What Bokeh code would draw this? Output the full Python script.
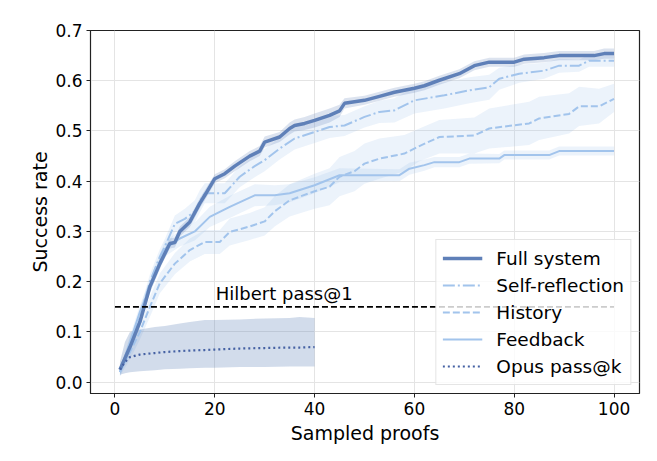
from bokeh.plotting import figure
from bokeh.models import Legend, LegendItem, Range1d, FixedTicker, Label, CustomJSTickFormatter
from bokeh.embed import file_html
from bokeh.resources import INLINE

# ---------------- data ----------------
full_x = [1, 3, 5, 7, 9, 11, 12, 13, 15, 17, 18, 20, 22, 24, 27, 29, 30, 33, 35, 36, 38, 40, 43, 45, 46, 50,
          53, 56, 60, 62, 65, 69, 72, 75, 80, 82, 86, 89, 96, 98, 100]
full_y = [0.025, 0.07, 0.12, 0.19, 0.236, 0.276, 0.278, 0.30, 0.319, 0.356, 0.372, 0.405, 0.415, 0.43, 0.45,
          0.46, 0.478, 0.488, 0.505, 0.511, 0.515, 0.521, 0.531, 0.54, 0.555, 0.561, 0.569, 0.577, 0.585,
          0.59, 0.601, 0.614, 0.63, 0.637, 0.637, 0.643, 0.646, 0.65, 0.65, 0.654, 0.654]
full_lo = [0.018, 0.06, 0.11, 0.18, 0.226, 0.266, 0.268, 0.29, 0.309, 0.346, 0.362, 0.396, 0.406, 0.42, 0.44,
           0.45, 0.467, 0.478, 0.493, 0.499, 0.502, 0.507, 0.517, 0.528, 0.545, 0.552, 0.56, 0.568, 0.576,
           0.581, 0.592, 0.605, 0.621, 0.628, 0.628, 0.634, 0.637, 0.641, 0.641, 0.644, 0.644]
full_hi = [0.032, 0.08, 0.13, 0.20, 0.246, 0.286, 0.288, 0.31, 0.329, 0.366, 0.382, 0.414, 0.424, 0.44, 0.46,
           0.47, 0.489, 0.498, 0.517, 0.523, 0.528, 0.535, 0.545, 0.552, 0.565, 0.570, 0.578, 0.586, 0.594,
           0.599, 0.610, 0.623, 0.639, 0.646, 0.646, 0.652, 0.655, 0.659, 0.659, 0.664, 0.664]

self_x = [1, 3, 5, 7, 9, 10, 12, 14, 16, 17, 18, 22, 25, 28, 30, 33, 36, 40, 43, 46, 50, 53, 56, 60, 66, 71,
          75, 77, 81, 86, 89, 93, 95, 100]
self_y = [0.02, 0.07, 0.13, 0.2, 0.25, 0.27, 0.315, 0.325, 0.34, 0.36, 0.376, 0.376, 0.409, 0.43, 0.442,
          0.465, 0.485, 0.498, 0.508, 0.511, 0.528, 0.538, 0.541, 0.561, 0.571, 0.581, 0.587, 0.604, 0.614,
          0.62, 0.63, 0.63, 0.64, 0.64]
self_lo = [0.012, 0.058, 0.115, 0.185, 0.235, 0.255, 0.298, 0.305, 0.318, 0.338, 0.356, 0.356, 0.388, 0.408,
           0.42, 0.443, 0.463, 0.476, 0.486, 0.49, 0.507, 0.516, 0.517, 0.535, 0.545, 0.555, 0.562, 0.582,
           0.596, 0.604, 0.616, 0.618, 0.628, 0.628]
self_hi = [0.028, 0.082, 0.145, 0.215, 0.265, 0.285, 0.332, 0.345, 0.362, 0.382, 0.396, 0.396, 0.43, 0.452,
           0.464, 0.487, 0.507, 0.52, 0.53, 0.532, 0.549, 0.56, 0.565, 0.587, 0.597, 0.607, 0.612, 0.626,
           0.632, 0.636, 0.644, 0.642, 0.652, 0.652]

hist_x = [1, 3, 5, 7, 9, 12, 15, 18, 21, 23, 27, 30, 32, 35, 40, 43, 45, 48, 50, 53, 58, 61, 65, 72, 75, 83,
          85, 91, 93, 97, 100]
hist_y = [0.02, 0.06, 0.1, 0.15, 0.197, 0.236, 0.263, 0.279, 0.279, 0.299, 0.31, 0.32, 0.34, 0.362, 0.38,
          0.389, 0.409, 0.42, 0.435, 0.445, 0.455, 0.47, 0.488, 0.491, 0.505, 0.515, 0.525, 0.534, 0.549,
          0.549, 0.564]
hist_lo = [0.012, 0.045, 0.085, 0.13, 0.177, 0.215, 0.24, 0.255, 0.255, 0.272, 0.283, 0.292, 0.31, 0.33,
           0.345, 0.352, 0.37, 0.38, 0.395, 0.405, 0.42, 0.44, 0.455, 0.455, 0.465, 0.472, 0.482, 0.495, 0.51,
           0.515, 0.538]
hist_hi = [0.028, 0.075, 0.115, 0.17, 0.217, 0.257, 0.286, 0.303, 0.303, 0.326, 0.337, 0.348, 0.37, 0.394,
           0.415, 0.426, 0.448, 0.46, 0.475, 0.485, 0.492, 0.505, 0.522, 0.527, 0.545, 0.558, 0.568, 0.575,
           0.588, 0.584, 0.594]

feed_x = [1, 3, 5, 7, 9, 10, 13, 16, 19, 23, 28, 32, 35, 40, 45, 57, 59, 62, 64, 69, 71, 77, 78, 87, 89, 100]
feed_y = [0.02, 0.08, 0.14, 0.19, 0.24, 0.265, 0.286, 0.3, 0.329, 0.349, 0.372, 0.372, 0.376, 0.392, 0.412,
          0.412, 0.425, 0.432, 0.438, 0.438, 0.445, 0.445, 0.452, 0.452, 0.46, 0.46]
feed_lo = [0.013, 0.068, 0.127, 0.176, 0.225, 0.25, 0.27, 0.282, 0.309, 0.327, 0.35, 0.352, 0.358, 0.376,
           0.398, 0.4, 0.413, 0.421, 0.428, 0.428, 0.435, 0.436, 0.443, 0.443, 0.451, 0.451]
feed_hi = [0.027, 0.092, 0.153, 0.204, 0.255, 0.28, 0.302, 0.318, 0.349, 0.371, 0.394, 0.392, 0.394, 0.408,
           0.426, 0.424, 0.437, 0.443, 0.448, 0.448, 0.455, 0.454, 0.461, 0.461, 0.469, 0.469]

opus_x = [1, 2, 3, 5, 8, 10, 13, 15, 18, 20, 25, 30, 35, 37, 40]
opus_y = [0.025, 0.04, 0.05, 0.055, 0.058, 0.06, 0.062, 0.063, 0.064, 0.065, 0.067, 0.068, 0.069, 0.069, 0.07]
opus_lo = [0.015, 0.018, 0.02, 0.022, 0.024, 0.026, 0.027, 0.028, 0.029, 0.029, 0.03, 0.03, 0.031, 0.031, 0.031]
opus_hi = [0.04, 0.08, 0.1, 0.105, 0.11, 0.112, 0.117, 0.12, 0.124, 0.124, 0.125, 0.127, 0.128, 0.13, 0.128]

hilbert_x = [0, 100]
hilbert_y = [0.15, 0.15]

x_ticks = [0, 20, 40, 60, 80, 100]
y_ticks = [0.0, 0.1, 0.2, 0.3, 0.4, 0.5, 0.6, 0.7]

# ---------------- styles ----------------
DARK = "#5f80b8"
LIGHT = "#a2c4ec"
OPUS = "#4561a3"
FONT = "DejaVu Sans"

p = figure(width=649, height=453, output_backend="svg", toolbar_location=None,
           x_range=Range1d(-4.9, 105.1), y_range=Range1d(-0.0225, 0.7),
           min_border_left=90, min_border_right=10, min_border_top=30, min_border_bottom=60)

p.background_fill_color = "white"
p.border_fill_color = "white"
p.outline_line_color = "#222222"
p.outline_line_width = 1.2

# bands
p.varea(x=self_x, y1=self_lo, y2=self_hi, fill_color=LIGHT, fill_alpha=0.2)
p.varea(x=hist_x, y1=hist_lo, y2=hist_hi, fill_color=LIGHT, fill_alpha=0.2)
p.varea(x=feed_x, y1=feed_lo, y2=feed_hi, fill_color=LIGHT, fill_alpha=0.2)
p.varea(x=full_x, y1=full_lo, y2=full_hi, fill_color=DARK, fill_alpha=0.22)
p.varea(x=opus_x, y1=opus_lo, y2=opus_hi, fill_color=DARK, fill_alpha=0.28)

# lines
r_feed = p.line(feed_x, feed_y, line_color=LIGHT, line_width=2)
r_hist = p.line(hist_x, hist_y, line_color=LIGHT, line_width=2, line_dash="7 3")
r_self = p.line(self_x, self_y, line_color=LIGHT, line_width=2, line_dash="12 3 2 3")
r_full = p.line(full_x, full_y, line_color=DARK, line_width=3.5)
r_opus = p.line(opus_x, opus_y, line_color=OPUS, line_width=2.2, line_dash="2 3")
p.line(hilbert_x, hilbert_y, line_color="black", line_width=1.6, line_dash="6 3")

p.add_layout(Label(x=20.2, y=0.176, text="Hilbert pass@1", text_font=FONT,
                   text_font_size="18px", text_color="black", text_baseline="alphabetic"))

legend = Legend(items=[
    LegendItem(label="Full system", renderers=[r_full]),
    LegendItem(label="Self-reflection", renderers=[r_self]),
    LegendItem(label="History", renderers=[r_hist]),
    LegendItem(label="Feedback", renderers=[r_feed]),
    LegendItem(label="Opus pass@k", renderers=[r_opus]),
], location="bottom_right")
legend.label_text_font = FONT
legend.label_text_font_size = "18.5px"
legend.label_text_color = "black"
legend.glyph_width = 40
legend.glyph_height = 24
legend.label_height = 24
legend.label_standoff = 14
legend.spacing = 3
legend.padding = 6
legend.margin = 8
legend.border_line_color = "#cccccc"
legend.border_line_width = 1
legend.background_fill_color = "white"
legend.background_fill_alpha = 0.8
p.add_layout(legend)

# axes
p.xaxis.ticker = FixedTicker(ticks=x_ticks)
p.yaxis.ticker = FixedTicker(ticks=y_ticks)
p.yaxis.formatter = CustomJSTickFormatter(code="return tick.toFixed(1);")
for ax in (p.xaxis, p.yaxis):
    ax.major_label_text_font = FONT
    ax.major_label_text_font_size = "17px"
    ax.major_label_text_color = "black"
    ax.axis_label_text_font = FONT
    ax.axis_label_text_font_size = "19px"
    ax.axis_label_text_font_style = "normal"
    ax.axis_label_text_color = "black"
    ax.major_tick_in = 0
    ax.major_tick_out = 4
    ax.minor_tick_line_color = None
    ax.axis_line_color = "#222222"
    ax.major_tick_line_color = "#222222"
p.xaxis.axis_label = "Sampled proofs"
p.yaxis.axis_label = "Success rate"
p.xaxis.major_label_standoff = 4
p.yaxis.major_label_standoff = 4
p.xaxis.axis_label_standoff = 4
p.yaxis.axis_label_standoff = 1

p.xgrid.grid_line_color = "#e4e4e4"
p.ygrid.grid_line_color = "#e4e4e4"
p.xgrid.grid_line_width = 1
p.ygrid.grid_line_width = 1

open("out.html", "w").write(file_html(p, INLINE))
